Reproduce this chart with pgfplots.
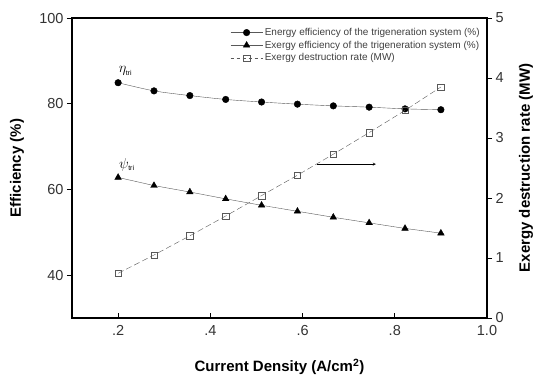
\documentclass[border=0pt]{standalone}
\usepackage{fontspec}
\setmainfont{Liberation Sans}
\usepackage{pgfplots}
\pgfplotsset{compat=1.18}
\definecolor{ln}{gray}{0.35}
\begin{document}
\begin{tikzpicture}
\path[use as bounding box] (-72pt,-58pt) rectangle (463pt,318pt);
\begin{axis}[at={(0,0)}, anchor=south west, scale only axis, width=415pt, height=300pt,
  xmin=0.1, xmax=1.0, ymin=30, ymax=100,
  axis line style={line width=1.4pt},
  xtick={0.2,0.4,0.6,0.8,1.0}, xticklabels={.2,.4,.6,.8,1.0},
  ytick={40,60,80,100},
  xtick pos=bottom, ytick pos=left,
  xtick align=inside, ytick align=outside,
  major tick length=5pt,
  tick style={line width=0.9pt, black},
  ticklabel style={font=\fontsize{14.5}{16}\selectfont, text=black!80},
  xticklabel style={yshift=-4pt},
  /pgf/number format/assume math mode=true,
  xlabel={\textbf{Current Density (A/cm$^{\mathbf{2}}$)}},
  ylabel={\textbf{Efficiency (\%)}},
  label style={font=\fontsize{15}{17}\selectfont},
  xlabel style={at={(axis description cs:0.5,-0.163)}, anchor=center},
  ylabel style={at={(axis description cs:-0.1325,0.5)}, anchor=center},
  legend style={draw=none, fill=none, at={(axis description cs:0.374,0.98)}, anchor=north west,
    font=\fontsize{10}{11.5}\selectfont, row sep=0pt, text=black!75},
  legend cell align=left,
  legend image code/.code={\draw[mark repeat=2,mark phase=2,#1] plot coordinates {(0pt,0pt) (16pt,0pt) (32pt,0pt)};},
]
\addplot[ln, thin, mark=*, mark size=3.3pt, mark options={solid, fill=black, draw=black}, smooth] coordinates {
(0.2,84.9) (0.2778,83.0) (0.3556,81.9) (0.4333,81.0) (0.5111,80.4) (0.5889,79.9) (0.6667,79.5) (0.7444,79.2) (0.8222,78.8) (0.9,78.6)};
\addlegendentry{Energy efficiency of the trigeneration system (\%)}
\addplot[ln, thin, mark=triangle*, mark size=3.8pt, mark options={solid, fill=black, draw=black}] coordinates {
(0.2,62.8) (0.2778,60.9) (0.3556,59.4) (0.4333,57.8) (0.5111,56.3) (0.5889,54.9) (0.6667,53.5) (0.7444,52.2) (0.8222,50.9) (0.9,49.8)};
\addlegendentry{Exergy efficiency of the trigeneration system (\%)}
\addlegendimage{ln, thin, dashed, mark=square, mark size=3.2pt, mark options={solid, fill=white, draw=ln}}
\addlegendentry{Exergy destruction rate (MW)}
\node[font=\fontsize{14}{16}\selectfont] at (axis cs:0.216,87.6) {$\eta_{\scriptscriptstyle\mathrm{tri}}$};
\node[font=\fontsize{14}{16}\selectfont] at (axis cs:0.219,65.8) {$\psi_{\scriptscriptstyle\mathrm{tri}}$};
\draw[-stealth, black] (axis cs:0.632,65.9) -- (axis cs:0.759,65.9);
\end{axis}
\begin{axis}[at={(0,0)}, anchor=south west, scale only axis, width=415pt, height=300pt,
  xmin=0.1, xmax=1.0, ymin=0, ymax=5,
  axis x line=none, axis y line*=right,
  axis line style={line width=1.4pt},
  ytick={0,1,2,3,4,5},
  ytick align=outside,
  major tick length=5pt,
  tick style={line width=0.9pt, black},
  ticklabel style={font=\fontsize{14.5}{16}\selectfont, text=black!80},
  /pgf/number format/assume math mode=true,
  ylabel={\textbf{Exergy destruction rate (MW)}},
  label style={font=\fontsize{15}{17}\selectfont},
  ylabel style={at={(axis description cs:1.094,0.5)}, anchor=center},
]
\addplot[ln, thin, dashed, dash pattern=on 6pt off 3pt, mark=square, mark size=3.2pt, mark options={solid, fill=white, draw=ln}] coordinates {
(0.2,0.745) (0.2778,1.05) (0.3556,1.37) (0.4333,1.70) (0.5111,2.04) (0.5889,2.38) (0.6667,2.73) (0.7444,3.09) (0.8222,3.46) (0.9,3.85)};
\end{axis}
\end{tikzpicture}
\end{document}
